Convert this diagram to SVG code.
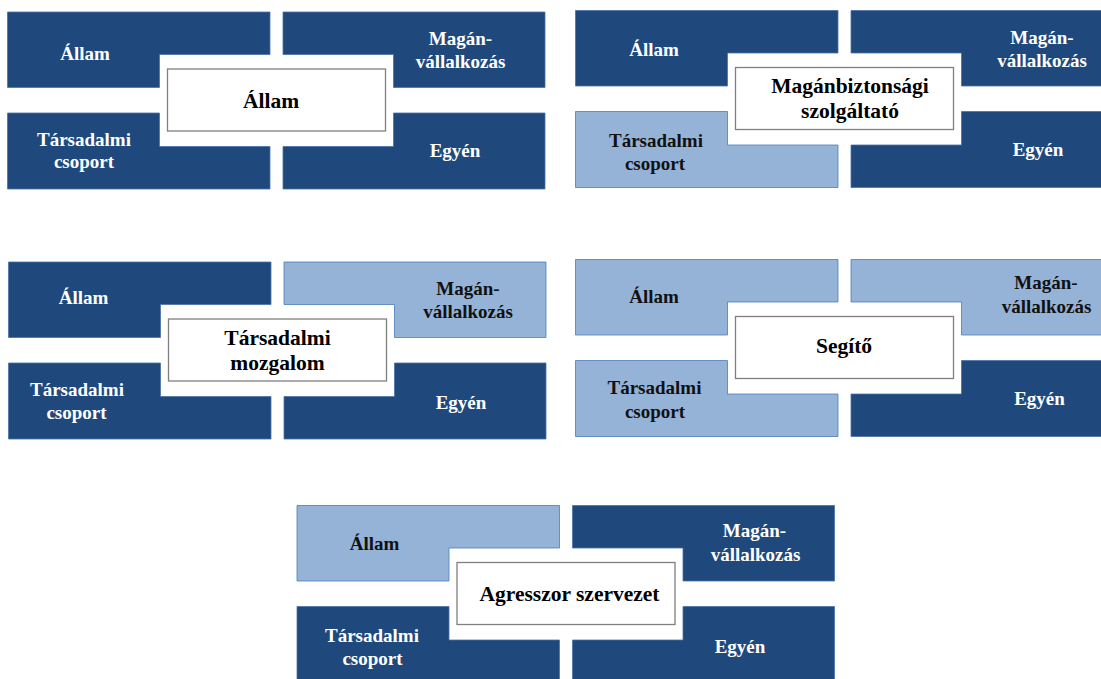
<svg xmlns="http://www.w3.org/2000/svg" xmlns:xlink="http://www.w3.org/1999/xlink" width="1101" height="679" viewBox="0 0 1101 679">
<style>
.dk{fill:#1F497D;stroke:#4A72A6;stroke-width:0.8}
.lt{fill:#95B3D7;stroke:#4A7EBB;stroke-width:0.8}
.ctr{fill:#ffffff;stroke:#7F7F7F;stroke-width:1.3}
text{font-family:"Liberation Serif","Times New Roman",serif;font-weight:bold;text-anchor:middle}
.w{fill:#ffffff;font-size:19px}
.b{fill:#111111;font-size:19px}
.c{fill:#000000;font-size:21.5px}
</style>
<defs>
<polygon id="tl" points="7.5,12 270,12 270,54.5 159.5,54.5 159.5,87.5 7.5,87.5"/>
<polygon id="tr" points="283,12 545,12 545,87.5 393.5,87.5 393.5,54.5 283,54.5"/>
<polygon id="bl" points="7.5,113 159.5,113 159.5,146.5 270,146.5 270,189 7.5,189"/>
<polygon id="br" points="283,146.5 393.5,146.5 393.5,113 545,113 545,189 283,189"/>
<rect id="cb" x="167.5" y="69" width="218" height="62"/>
</defs>
<rect width="1101" height="679" fill="#ffffff"/>
<g id="connectors"/>

<g id="panel1">
<g id="p1-allam"><use xlink:href="#tl" class="dk"/><text class="w" x="85" y="60">Állam</text></g>
<g id="p1-magan"><use xlink:href="#tr" class="dk"/><text class="w" x="460.5" y="44.5">Magán-</text><text class="w" x="460.5" y="68">vállalkozás</text></g>
<g id="p1-tars"><use xlink:href="#bl" class="dk"/><text class="w" x="84" y="146">Társadalmi</text><text class="w" x="84" y="168">csoport</text></g>
<g id="p1-egyen"><use xlink:href="#br" class="dk"/><text class="w" x="455" y="157">Egyén</text></g>
<g id="p1-center"><use xlink:href="#cb" class="ctr"/><text class="c" x="271" y="107.5">Állam</text></g>
</g>

<g id="panel2" transform="translate(568,-1.5)">
<g id="p2-allam"><use xlink:href="#tl" class="dk"/><text class="w" x="86" y="57.5">Állam</text></g>
<g id="p2-magan"><use xlink:href="#tr" class="dk"/><text class="w" x="474" y="45.5">Magán-</text><text class="w" x="474" y="68.5">vállalkozás</text></g>
<g id="p2-tars"><use xlink:href="#bl" class="lt"/><text class="b" x="88" y="148.8">Társadalmi</text><text class="b" x="87" y="171">csoport</text></g>
<g id="p2-egyen"><use xlink:href="#br" class="dk"/><text class="w" x="470" y="157.5">Egyén</text></g>
<g id="p2-center"><use xlink:href="#cb" class="ctr"/><text class="c" x="282" y="94.5">Magánbiztonsági</text><text class="c" x="282" y="119.5">szolgáltató</text></g>
</g>

<g id="panel3" transform="translate(1,250)">
<g id="p3-allam"><use xlink:href="#tl" class="dk"/><text class="w" x="82.5" y="54">Állam</text></g>
<g id="p3-magan"><use xlink:href="#tr" class="lt"/><text class="b" x="467" y="45">Magán-</text><text class="b" x="467" y="68">vállalkozás</text></g>
<g id="p3-tars"><use xlink:href="#bl" class="dk"/><text class="w" x="76" y="146">Társadalmi</text><text class="w" x="75.5" y="169">csoport</text></g>
<g id="p3-egyen"><use xlink:href="#br" class="dk"/><text class="w" x="460" y="159">Egyén</text></g>
<g id="p3-center"><use xlink:href="#cb" class="ctr"/><text class="c" x="276.5" y="94.5">Társadalmi</text><text class="c" x="276.5" y="120">mozgalom</text></g>
</g>

<g id="panel4" transform="translate(568,247.5)">
<g id="p4-allam"><use xlink:href="#tl" class="lt"/><text class="b" x="86" y="55.5">Állam</text></g>
<g id="p4-magan"><use xlink:href="#tr" class="lt"/><text class="b" x="478" y="41.5">Magán-</text><text class="b" x="478.5" y="65.5">vállalkozás</text></g>
<g id="p4-tars"><use xlink:href="#bl" class="lt"/><text class="b" x="86.5" y="146.5">Társadalmi</text><text class="b" x="87" y="170.5">csoport</text></g>
<g id="p4-egyen"><use xlink:href="#br" class="dk"/><text class="w" x="471.5" y="157.5">Egyén</text></g>
<g id="p4-center"><use xlink:href="#cb" class="ctr"/><text class="c" x="276" y="105.5">Segítő</text></g>
</g>

<g id="panel5" transform="translate(289.5,493.5)">
<g id="p5-allam"><use xlink:href="#tl" class="lt"/><text class="b" x="85" y="56.5">Állam</text></g>
<g id="p5-magan"><use xlink:href="#tr" class="dk"/><text class="w" x="465" y="43.5">Magán-</text><text class="w" x="466" y="67.5">vállalkozás</text></g>
<g id="p5-tars"><use xlink:href="#bl" class="dk"/><text class="w" x="82.5" y="148">Társadalmi</text><text class="w" x="83" y="171.5">csoport</text></g>
<g id="p5-egyen"><use xlink:href="#br" class="dk"/><text class="w" x="450.5" y="159.5">Egyén</text></g>
<g id="p5-center"><use xlink:href="#cb" class="ctr"/><text class="c" x="280" y="107.5">Agresszor szervezet</text></g>
</g>
</svg>
